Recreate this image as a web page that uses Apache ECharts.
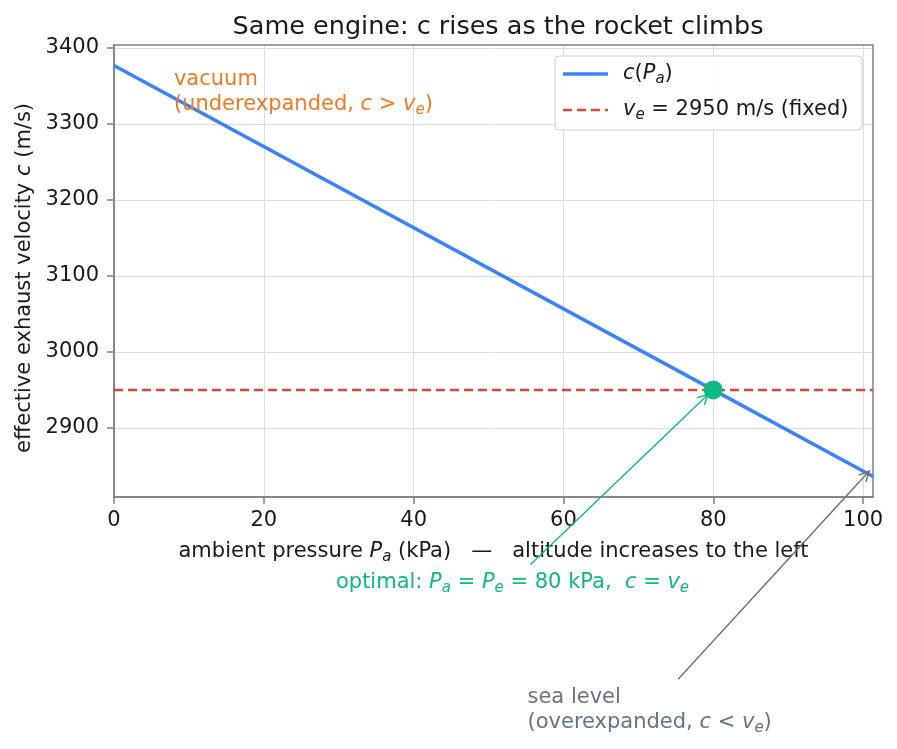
<!DOCTYPE html>
<html lang="en">
<head>
<meta charset="UTF-8">
<title>c vs ambient pressure</title>
<script src="https://cdn.jsdelivr.net/npm/echarts@6/dist/echarts.min.js"></script>
<style>
html,body{margin:0;width:100%;height:100%;background:#fff;}
#chart{width:897px;height:749px;}
</style>
</head>
<body>
<div id="chart"></div>
<script>
// data
var pressure = [0, 80, 101.325];
var cValues = [3377, 2950, 2836];
var vePressure = [0, 101.325];
var veValues = [2950, 2950];
var optimalPoint = [80, 2950];
var xTicks = [0, 20, 40, 60, 80, 100];
var yTicks = [2900, 3000, 3100, 3200, 3300, 3400];

var FONT = 'DejaVu Sans';
var FS = 21;
var BLUE = '#3b82f6', RED = '#e0443e', GREEN = '#10b981', ORANGE = '#ef7a24', GRAY = '#6b7280';

var myChart = echarts.init(document.getElementById('chart'));

function pairs(xs, ys) {
	var out = [];
	for (var i = 0; i < xs.length; i++) out.push([xs[i], ys[i]]);
	return out;
}

// rich styles for mathtext-like labels; key is 'color' for components, 'fill' for graphic text
function mathRich(size, color, key) {
	key = key || 'color';
	var n = {fontFamily: FONT, fontSize: size}, i = {fontFamily: FONT, fontSize: size, fontStyle: 'italic'},
		s = {fontFamily: FONT, fontSize: Math.round(size * 0.7), fontStyle: 'italic', padding: [Math.round(size * 0.5), 0, 0, 0]};
	n[key] = i[key] = s[key] = color;
	return {n: n, i: i, s: s};
}

var options = {
	animation: false,
	backgroundColor: '#fff',
	title: {
		text: 'Same engine: c rises as the rocket climbs',
		left: 493, top: 9, textAlign: 'center',
		textStyle: {fontFamily: FONT, fontSize: 25.5, fontWeight: 'normal', color: '#1a1a1a'}
	},
	grid: {left: 114, top: 45, right: 24, bottom: 252, show: false},
	xAxis: {
		type: 'value', min: 0, max: 101.325,
		name: '{n|ambient pressure }{i|P}{s|a}{n| (kPa)   —   altitude increases to the left}',
		nameLocation: 'middle', nameGap: 42,
		nameTextStyle: {rich: mathRich(FS, '#1a1a1a')},
		axisLine: {show: true, lineStyle: {color: '#808080', width: 1.5}},
		axisTick: {show: true, length: 7, customValues: xTicks, lineStyle: {color: '#808080', width: 1.5}},
		axisLabel: {customValues: xTicks, fontFamily: FONT, fontSize: FS, color: '#1a1a1a', margin: 13,
			formatter: function(v) { return String(v); }},
		splitLine: {show: true, lineStyle: {color: '#dcdcdc', width: 1}}
	},
	yAxis: {
		type: 'value', min: 2809, max: 3404,
		name: '{n|effective exhaust velocity }{i|c}{n| (m/s)}',
		nameLocation: 'middle', nameGap: 78, nameRotate: 90,
		nameTextStyle: {rich: mathRich(FS, '#1a1a1a'), padding: [0, 14, 0, 0]},
		axisLine: {show: true, lineStyle: {color: '#808080', width: 1.5}},
		axisTick: {show: true, length: 7, customValues: yTicks, lineStyle: {color: '#808080', width: 1.5}},
		axisLabel: {customValues: yTicks, fontFamily: FONT, fontSize: FS, color: '#1a1a1a', margin: 15,
			formatter: function(v) { return String(v); }},
		splitLine: {show: true, lineStyle: {color: '#dcdcdc', width: 1}}
	},
	series: [{
		name: 'c', type: 'line', data: pairs(pressure, cValues),
		symbol: 'none', lineStyle: {color: BLUE, width: 3.5}, z: 3
	}, {
		name: 've', type: 'line', data: pairs(vePressure, veValues),
		symbol: 'none', lineStyle: {color: RED, width: 2.5, type: [9, 5]}, z: 2
	}, {
		name: 'optimal', type: 'scatter', data: [optimalPoint],
		symbolSize: 19, itemStyle: {color: GREEN, opacity: 1}, z: 4
	}]
};
myChart.setOption(options);

var gridRect = {x: 114, y: 45, w: 897 - 114 - 24, h: 749 - 45 - 252};

function px(pt) { return myChart.convertToPixel({gridIndex: 0}, pt); }

function arrow(from, to, color) {
	var dx = to[0] - from[0], dy = to[1] - from[1];
	var len = Math.sqrt(dx * dx + dy * dy), ux = dx / len, uy = dy / len;
	var h = 10, w = 5;
	var bx = to[0] - ux * h, by = to[1] - uy * h;
	return [{
		type: 'line', shape: {x1: from[0], y1: from[1], x2: to[0], y2: to[1]},
		style: {stroke: color, lineWidth: 1.4}, z: 10
	}, {
		type: 'polyline',
		shape: {points: [[bx - uy * w, by + ux * w], to, [bx + uy * w, by - ux * w]]},
		style: {stroke: color, lineWidth: 1.4, fill: null}, z: 10
	}];
}

// annotation anchors in data coords
var vacText = px([8, 3342]);
var optText = px([53.2, 2696]);
var optFrom = px([55.6, 2720]);
var optTo = px([79.3, 2944]);
var seaText = px([55.2, 2528]);
var seaFrom = px([75.3, 2569]);
var seaTo = px([100.8, 2843]);

var graphics = [{
	type: 'rect', shape: {x: gridRect.x, y: gridRect.y, width: gridRect.w, height: gridRect.h},
	style: {fill: null, stroke: '#808080', lineWidth: 1.5}, z: 1, silent: true
}, {
	type: 'text', x: vacText[0], y: vacText[1],
	style: {text: '{n|vacuum}\n{n|(underexpanded, }{i|c}{n| > }{i|v}{s|e}{n|)}', rich: mathRich(FS, ORANGE, 'fill'),
		lineHeight: 25, verticalAlign: 'middle'}, z: 10
}, {
	type: 'text', x: optText[0], y: optText[1],
	style: {text: '{n|optimal: }{i|P}{s|a}{n| = }{i|P}{s|e}{n| = 80 kPa,  }{i|c}{n| = }{i|v}{s|e}', rich: mathRich(FS, GREEN, 'fill'),
		align: 'center', verticalAlign: 'middle'}, z: 10
}, {
	type: 'text', x: seaText[0], y: seaText[1],
	style: {text: '{n|sea level}\n{n|(overexpanded, }{i|c}{n| < }{i|v}{s|e}{n|)}', rich: mathRich(FS, GRAY, 'fill'),
		lineHeight: 25, verticalAlign: 'middle'}, z: 10
}];

// legend box
var lg = {x: 555, y: 56, w: 307, h: 74};
graphics.push({
	type: 'rect', shape: {x: lg.x, y: lg.y, width: lg.w, height: lg.h, r: 4},
	style: {fill: 'rgba(255,255,255,0.9)', stroke: '#cccccc', lineWidth: 1}, z: 20
}, {
	type: 'line', shape: {x1: lg.x + 8, y1: lg.y + 18, x2: lg.x + 53, y2: lg.y + 18},
	style: {stroke: BLUE, lineWidth: 3.5}, z: 21
}, {
	type: 'text', x: lg.x + 68, y: lg.y + 18,
	style: {text: '{i|c}{n|(}{i|P}{s|a}{n|)}', rich: mathRich(FS, '#1a1a1a', 'fill'), verticalAlign: 'middle'}, z: 21
}, {
	type: 'line', shape: {x1: lg.x + 8, y1: lg.y + 54, x2: lg.x + 53, y2: lg.y + 54},
	style: {stroke: RED, lineWidth: 2.5, lineDash: [9, 5]}, z: 21
}, {
	type: 'text', x: lg.x + 68, y: lg.y + 54,
	style: {text: '{i|v}{s|e}{n| = 2950 m/s (fixed)}', rich: mathRich(FS, '#1a1a1a', 'fill'), verticalAlign: 'middle'}, z: 21
});

graphics = graphics.concat(arrow(optFrom, optTo, GREEN), arrow(seaFrom, seaTo, '#707070'));
myChart.setOption({graphic: graphics});
</script>
</body>
</html>
